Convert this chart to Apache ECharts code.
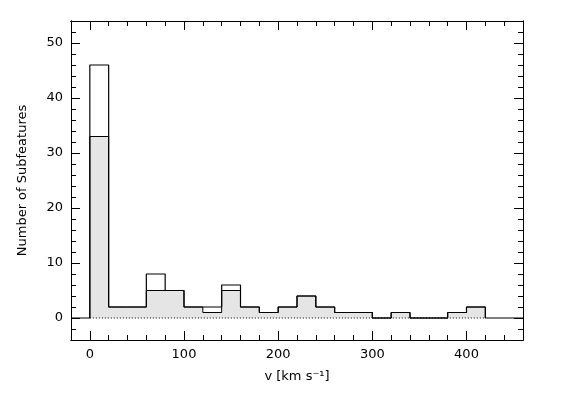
<!DOCTYPE html>
<html><head><meta charset="utf-8">
<script src="https://cdn.jsdelivr.net/npm/echarts@6/dist/echarts.min.js"></script>
<style>html,body{margin:0;background:#fff}#c{width:578px;height:403px}</style>
</head><body><div id="c"></div>
<script>
// bin left edges, 20 km/s wide
const binEdges = [0,20,40,60,80,100,120,140,160,180,200,220,240,260,280,300,320,340,360,380,400];
const totalCounts = [46,2,2,8,5,2,2,6,2,1,2,4,2,1,1,0,1,0,0,1,2];
const shadedCounts = [33,2,2,5,5,2,1,5,2,1,2,4,2,1,1,0,1,0,0,1,2];
const xMajor = [0,100,200,300,400];
const yMajor = [0,10,20,30,40,50];

const xMinor = [];
for (let v = -20; v <= 460; v += 20) xMinor.push(v);
const yMinor = [];
for (let v = -4; v <= 54; v += 2) yMinor.push(v);

const font = 'DejaVu Sans';
const stepData = (counts, pad) => {
  const d = [];
  if (pad) d.push([-20, 0]);
  d.push([0, 0]);
  binEdges.forEach((x, i) => d.push([x, counts[i]]));
  d.push([420, 0]);
  if (pad) d.push([460, 0]);
  return d;
};

const axis = (dim, pos, ticks, len, labels, extra) => Object.assign({
  type: 'value', position: pos,
  min: dim === 'x' ? -20 : -4, max: dim === 'x' ? 460 : 54,
  axisLine: { show: true, onZero: false, lineStyle: { color: '#000', width: 1 } },
  splitLine: { show: false },
  axisTick: { show: true, inside: true, length: len, customValues: ticks, lineStyle: { color: '#000' } },
  axisLabel: labels ? { show: true, customValues: ticks, color: '#000', fontFamily: font, fontSize: 13, margin: 8 } : { show: false }
}, extra || {});

const chart = echarts.init(document.getElementById('c'));
chart.setOption({
  animation: false,
  grid: { left: 71, right: 55, top: 21, bottom: 63 },
  xAxis: [
    axis('x', 'bottom', xMajor, 9, true, { name: 'v [km s\u207B\u00B9]', nameLocation: 'middle', nameGap: 30, nameTextStyle: { color: '#000', fontFamily: font, fontSize: 13 } }),
    axis('x', 'bottom', xMinor, 5, false),
    axis('x', 'top', xMajor, 9, false),
    axis('x', 'top', xMinor, 5, false)
  ],
  yAxis: [
    axis('y', 'left', yMajor, 9, true, { name: 'Number of Subfeatures', nameLocation: 'middle', nameGap: 42, nameTextStyle: { color: '#000', fontFamily: font, fontSize: 13 } }),
    axis('y', 'left', yMinor, 5, false),
    axis('y', 'right', yMajor, 9, false),
    axis('y', 'right', yMinor, 5, false)
  ],
  series: [
    {
      type: 'line', step: 'end', data: stepData(shadedCounts, false), symbol: 'none',
      lineStyle: { color: '#000', width: 1 }, areaStyle: { color: '#e5e5e5', opacity: 1 }, z: 2
    },
    {
      type: 'line', data: [[0, 0], [420, 0]], symbol: 'none',
      lineStyle: { color: '#000', width: 1, type: [1, 2] }, z: 3
    },
    {
      type: 'line', step: 'end', data: stepData(totalCounts, true), symbol: 'none',
      lineStyle: { color: '#000', width: 1.2 }, z: 4
    }
  ]
});
</script></body></html>
